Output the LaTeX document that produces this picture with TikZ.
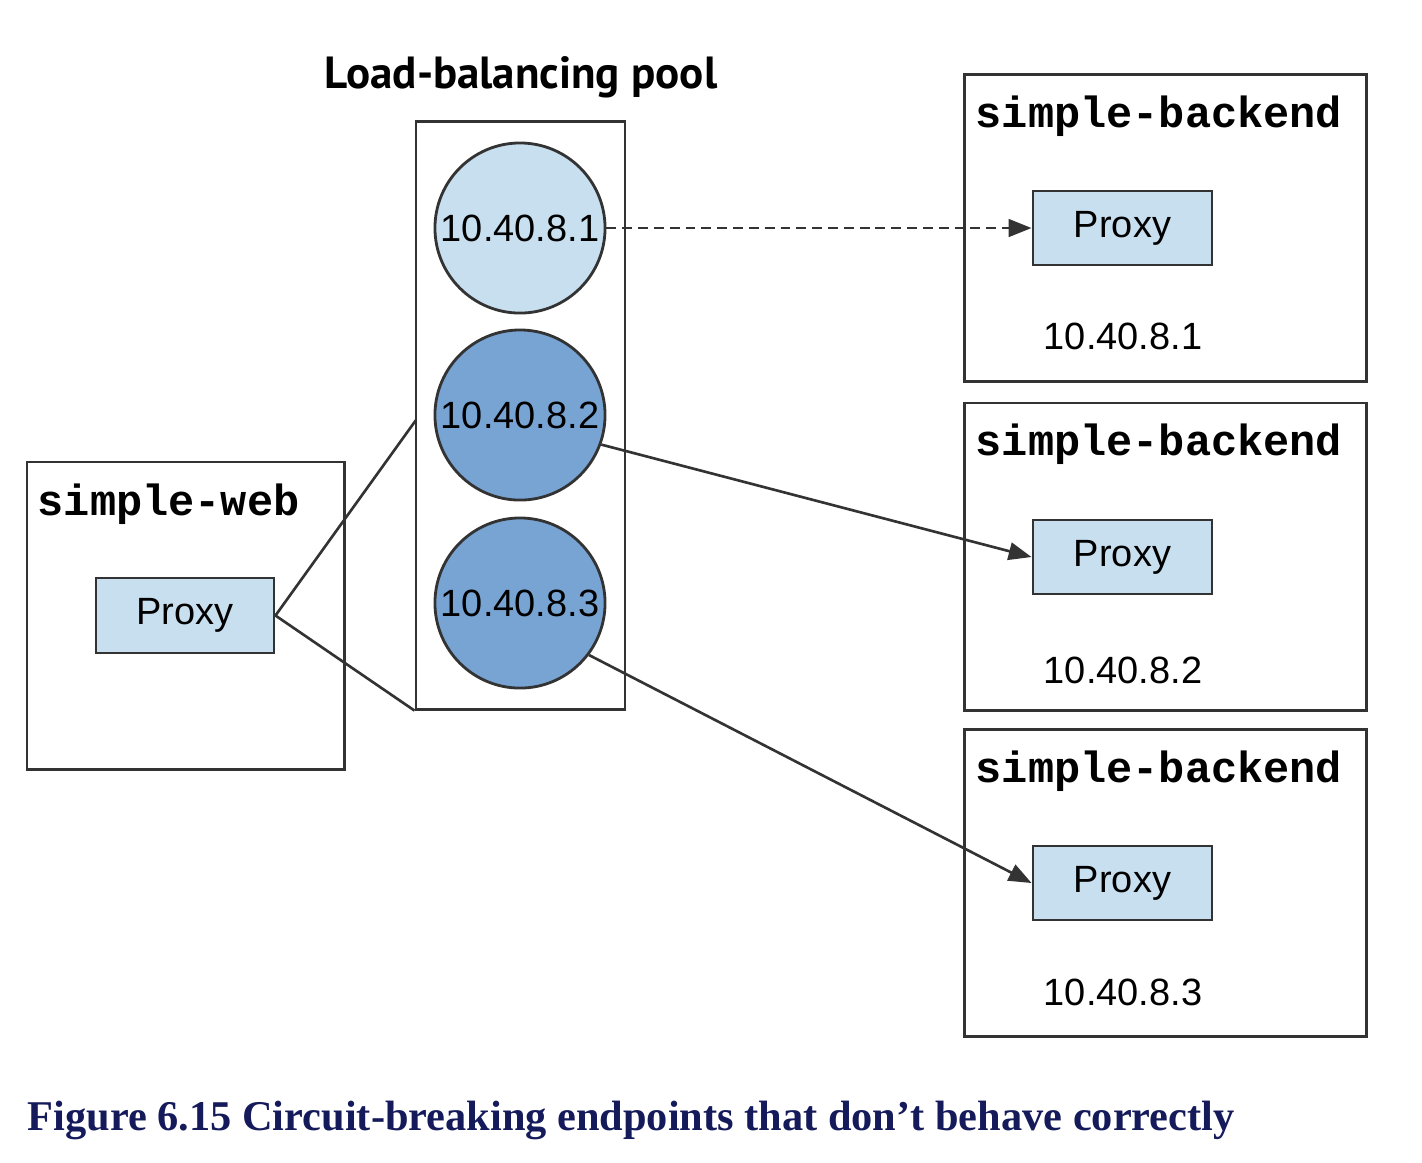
\documentclass[tikz,border=0pt]{standalone}
\usepackage{fontspec}
\setmainfont{Liberation Sans}
\setmonofont{Liberation Mono}
\newfontfamily\titlefont{PT Sans}
\newfontfamily\capfont{Liberation Serif}
\usetikzlibrary{positioning,arrows.meta}
\definecolor{proxyblue}{HTML}{C8DFF0}
\definecolor{podlight}{HTML}{C8DFF0}
\definecolor{poddark}{HTML}{78A4D4}
\definecolor{edge}{HTML}{333333}
\definecolor{capblue}{HTML}{141A5A}

\begin{document}
\begin{tikzpicture}[x=0.01cm,y=-0.01cm,
  frame/.style={draw=edge, line width=0.8pt, inner sep=0pt},
  proxy/.style={draw=edge, line width=0.8pt, fill=proxyblue, minimum width=1.79cm,
    minimum height=0.74cm, font=\fontsize{10.8}{12}\selectfont},
  pod/.style={circle, draw=edge, line width=0.8pt, minimum size=1.70cm, inner sep=0pt,
    font=\fontsize{10.8}{12}\selectfont},
  svc/.style={anchor=base west, inner sep=0pt, font=\ttfamily\bfseries\fontsize{12.4}{14}\selectfont},
  ip/.style={font=\fontsize{10.8}{12}\selectfont},
  link/.style={draw=edge, line width=0.75pt},
  arr/.style={link, -{Triangle[length=6.5pt,width=5pt]}}
]
  \useasboundingbox (0,0) rectangle (1422,1162);
  \def\bw{4.01cm}
  \def\bh{3.07cm}

  % load-balancing pool
  \node[anchor=base, font=\titlefont\bfseries\fontsize{12.8}{15}\selectfont] (pooltitle) at (521,88) {Load-balancing pool};
  \node[frame, minimum width=2.09cm, minimum height=5.87cm] (pool) at (520.5,415.5) {};
  \node[pod, fill=podlight] (pod1) at (520,228) {10.40.8.1};
  \node[pod, fill=poddark]  (pod2) at (520,415) {10.40.8.2};
  \node[pod, fill=poddark]  (pod3) at (520,603) {10.40.8.3};

  % simple-web
  \node[frame, minimum width=3.17cm, minimum height=3.07cm] (web) at (185.5,615.5) {};
  \node[svc] (weblabel) at (37,515) {simple-web};
  \node[proxy, minimum width=1.78cm, minimum height=0.75cm] (webproxy) at (185,615.5) {Proxy};

  % simple-backend
  \foreach \i/\y/\py/\iy in {1/228/228/336, 2/556.5/557/670, 3/883/883/992} {
    \node[frame, minimum width=\bw, minimum height=\bh] (be\i) at (1165.5,\y) {};
    \node[svc] (belabel\i) at (975,\y-101) {simple-backend};
    \node[proxy] (beproxy\i) at (1122.5,\py) {Proxy};
    \node[ip] (beip\i) at (1123,\iy) {10.40.8.\i};
  }

  % connectors
  \coordinate (poolin) at (416,420);
  \draw[link] (poolin) -- (webproxy.east) -- (pool.south west);
  \draw[arr, dash pattern=on 2.8pt off 1.7pt] (pod1.east) -- (beproxy1.west);
  \draw[arr] (pod2.-20) -- (beproxy2.west);
  \draw[arr] (pod3.-37) -- (beproxy3.west);

  % caption
  \node[anchor=base west, inner sep=0pt, text=capblue, font=\capfont\bfseries\fontsize{12.05}{14}\selectfont] (caption) at (27,1130)
    {Figure 6.15 Circuit-breaking endpoints that don’t behave correctly};
\end{tikzpicture}
\end{document}
